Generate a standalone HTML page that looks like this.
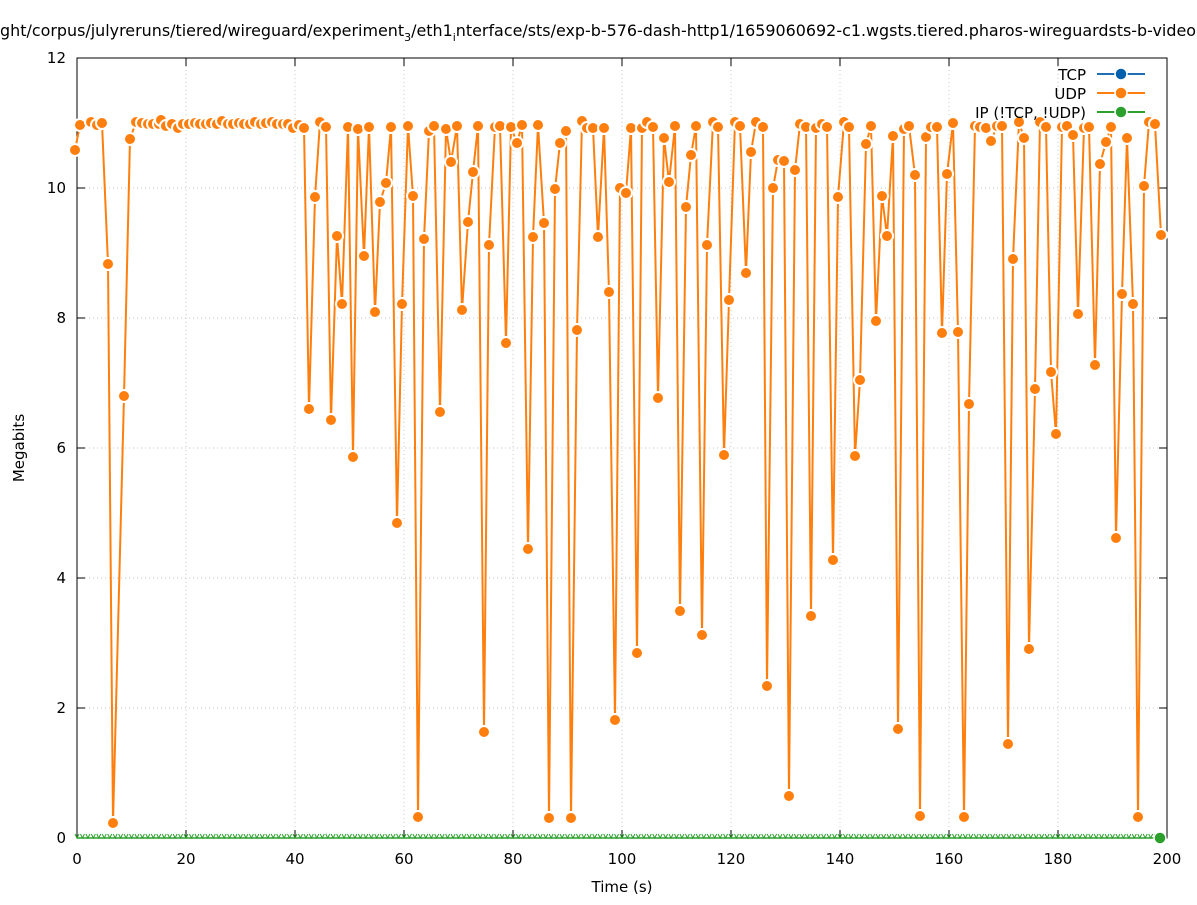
<!DOCTYPE html>
<html><head><meta charset="utf-8"><style>
html,body{margin:0;padding:0;background:#fff;}
svg text{font-family:"DejaVu Sans","Liberation Sans",sans-serif;}
</style></head><body>
<svg id="s" width="1197" height="900" xmlns="http://www.w3.org/2000/svg">
<rect width="1197" height="900" fill="#fff"/>
<text x="598" y="36" font-size="16" text-anchor="middle" textLength="1196" lengthAdjust="spacingAndGlyphs">ght/corpus/julyreruns/tiered/wireguard/experiment<tspan font-size="11" dy="5">3</tspan><tspan dy="-5">/eth1</tspan><tspan font-size="11" dy="5">i</tspan><tspan dy="-5">nterface/sts/exp-b-576-dash-http1/1659060692-c1.wgsts.tiered.pharos-wireguardsts-b-video</tspan></text>
<g id="grid" stroke="#c8c8c8" stroke-dasharray="1,3" stroke-width="1"></g>
<rect x="77" y="58" width="1090" height="780" fill="none" stroke="#000" stroke-width="1"/>
<g id="ticks" stroke="#000" stroke-width="1"></g>
<g id="labels" font-size="15"></g>
<text x="24" y="448" font-size="15" text-anchor="middle" transform="rotate(-90 24 448)">Megabits</text>
<text x="622" y="892" font-size="15" text-anchor="middle">Time (s)</text>
<g id="green"></g>
<polyline id="udp" fill="none" stroke="#ff7f0e" stroke-width="2"/>
<g id="mk"></g>
<g font-size="15" text-anchor="end">
<text x="1086" y="80">TCP</text><text x="1086" y="99">UDP</text><text x="1086" y="118">IP (!TCP, !UDP)</text>
</g>
<g stroke-width="2">
<line x1="1097" y1="74" x2="1145" y2="74" stroke="#1f6fb4"/><circle cx="1121" cy="74" r="6" fill="#0060ad" stroke="#fff" stroke-width="1.5"/>
<line x1="1097" y1="93" x2="1145" y2="93" stroke="#ff7f0e"/><circle cx="1121" cy="93" r="6" fill="#ff7f0e" stroke="#fff" stroke-width="1.5"/>
<line x1="1097" y1="112" x2="1145" y2="112" stroke="#2ca02c"/><circle cx="1121" cy="112" r="6" fill="#2ca02c" stroke="#fff" stroke-width="1.5"/>
</g>
</svg>
<script>
var NS="http://www.w3.org/2000/svg";
function el(p,t,a){var e=document.createElementNS(NS,t);for(var k in a)e.setAttribute(k,a[k]);p.appendChild(e);return e;}
var g=document.getElementById('grid'),tk=document.getElementById('ticks'),lb=document.getElementById('labels');
for(var i=0;i<=10;i++){var x=77+109*i;
 if(i>0&&i<10)el(g,'line',{x1:x,y1:58,x2:x,y2:838});
 el(tk,'line',{x1:x,y1:838,x2:x,y2:830});el(tk,'line',{x1:x,y1:58,x2:x,y2:66});
 var t=el(lb,'text',{x:x,y:864,'text-anchor':'middle'});t.textContent=String(i*20);}
for(var j=0;j<=6;j++){var y=838-130*j;
 if(j>0&&j<6)el(g,'line',{x1:77,y1:y,x2:1167,y2:y});
 el(tk,'line',{x1:77,y1:y,x2:85,y2:y});el(tk,'line',{x1:1167,y1:y,x2:1159,y2:y});
 var t=el(lb,'text',{x:66,y:y+5,'text-anchor':'end'});t.textContent=String(j*2);}
var gr=document.getElementById('green');
el(gr,'line',{x1:77,y1:838,x2:1160,y2:838,stroke:'#2ca02c','stroke-width':1.5});
for(var x=77;x<1158;x+=5.45){el(gr,'path',{d:'M'+(x-2)+' 834 L'+x+' 838 L'+(x+2)+' 834',fill:'none',stroke:'#2ca02c','stroke-width':1});}
el(gr,'circle',{cx:1160,cy:838,r:6,fill:'#2ca02c',stroke:'#fff','stroke-width':1.5});
var P=[[75,150],[80,125],[91,122],[97,125],[102,123],[108,264],[113,823],[124,396],[130,139],[136,122],[142,123],[148,124],[153,124],[159,124],[161,120],[166,126],[172,124],[178,128],[183,124],[189,124],[195,123],[200,124],[206,124],[211,123],[217,124],[222,121],[228,124],[233,124],[239,123],[244,124],[250,124],[255,122],[261,124],[266,123],[272,122],[277,124],[283,124],[288,124],[293,128],[299,125],[304,128],[309,409],[315,197],[320,122],[326,127],[331,420],[337,236],[342,304],[348,127],[353,457],[358,129],[364,256],[369,127],[375,312],[380,202],[386,183],[391,127],[397,523],[402,304],[408,126],[413,196],[418,817],[424,239],[429,131],[434,126],[440,412],[446,129],[451,162],[457,126],[462,310],[468,222],[473,172],[478,126],[484,732],[489,245],[495,127],[500,126],[506,343],[511,127],[517,143],[522,125],[528,549],[533,237],[538,125],[544,223],[549,818],[555,189],[560,143],[566,131],[571,818],[577,330],[582,121],[587,128],[593,128],[598,237],[604,128],[609,292],[615,720],[620,188],[626,193],[631,128],[637,653],[642,128],[647,122],[653,127],[658,398],[664,138],[669,182],[675,126],[680,611],[686,207],[691,155],[696,126],[702,635],[707,245],[713,122],[718,127],[724,455],[729,300],[735,122],[740,126],[746,273],[751,152],[756,122],[763,127],[767,686],[773,188],[778,160],[784,161],[789,796],[795,170],[800,124],[806,127],[811,616],[816,128],[822,124],[827,127],[833,560],[838,197],[844,122],[849,127],[855,456],[860,380],[866,144],[871,126],[876,321],[882,196],[887,236],[893,136],[898,729],[904,129],[909,126],[915,175],[920,816],[926,137],[931,127],[937,127],[942,333],[947,174],[953,123],[958,332],[964,817],[969,404],[975,126],[980,127],[986,128],[991,141],[997,126],[1002,126],[1008,744],[1013,259],[1019,122],[1024,138],[1029,649],[1035,389],[1040,122],[1046,127],[1051,372],[1056,434],[1062,127],[1067,126],[1073,135],[1078,314],[1084,128],[1089,127],[1095,365],[1100,164],[1106,142],[1111,127],[1116,538],[1122,294],[1127,138],[1133,304],[1138,817],[1144,186],[1149,122],[1155,124],[1161,235]];
document.getElementById('udp').setAttribute('points',P.map(function(p){return p.join(',')}).join(' '));
var mk=document.getElementById('mk');
P.forEach(function(p){el(mk,'circle',{cx:p[0],cy:p[1],r:6,fill:'#ff7f0e',stroke:'#fff','stroke-width':2});});
</script>
</body></html>
